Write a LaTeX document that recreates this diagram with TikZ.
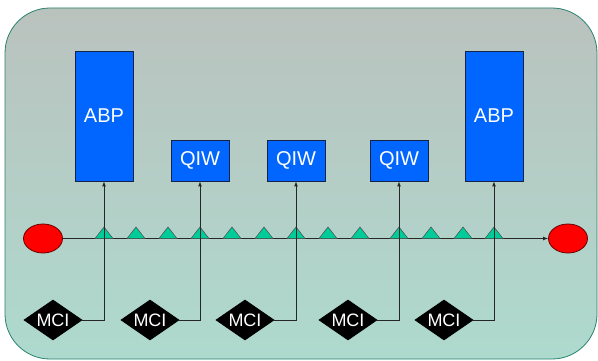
\documentclass[tikz,border=0pt]{standalone}
\usepackage{fontspec}
\setmainfont{Liberation Sans}
\usetikzlibrary{shapes.geometric}

\definecolor{boxblue}{RGB}{0,102,255}
\definecolor{edgeblue}{RGB}{20,35,70}
\definecolor{trigreen}{RGB}{0,204,153}
\definecolor{bgtop}{RGB}{186,194,190}
\definecolor{bgbot}{RGB}{174,218,206}
\definecolor{bgedge}{RGB}{40,130,110}

\begin{document}
\begin{tikzpicture}[x=1pt, y=-1pt,
		every node/.style={draw=edgeblue, inner sep=0pt, line width=0.8pt},
		unit/.style={fill=boxblue, text=white, font=\fontsize{20}{20}\selectfont, minimum width=58pt},
		mci/.style={diamond, aspect=1.45, fill=black, draw=black, text=white, font=\fontsize{18}{18}\selectfont, minimum width=58pt, minimum height=40pt},
		port/.style={ellipse, fill=red, draw=red!40!black, minimum width=39pt, minimum height=29pt},
		wire/.style={line width=0.7pt, draw=black!85}]
		\useasboundingbox (0,0) rectangle (598,361);
		\path[rounded corners=45pt, top color=bgtop, bottom color=bgbot, draw=bgedge, line width=0.8pt] (5,8) rectangle (597,359);

		\node (abp1) [unit, minimum height=130pt] at (104,116) {ABP};
		\node (qiw1) [unit, minimum height=41pt] at (200,160.5) {QIW};
		\node (qiw2) [unit, minimum height=41pt] at (296,160.5) {QIW};
		\node (qiw3) [unit, minimum height=41pt] at (399,160.5) {QIW};
		\node (abp2) [unit, minimum height=130pt] at (494,116) {ABP};

		\node (src) [port] at (43,238.5) {};
		\node (dst) [port] at (568,238.5) {};

		\node (mci1) [mci] at (53,320) {MCI};
		\node (mci2) [mci] at (150,320) {MCI};
		\node (mci3) [mci] at (245,320) {MCI};
		\node (mci4) [mci] at (348,320) {MCI};
		\node (mci5) [mci] at (444,320) {MCI};

		\draw [wire, -latex] (src) -- (dst);
		\foreach \x in {104,136,168,200,232,264,296,328,360,399,431,463,494}
			\draw [fill=trigreen, draw=black!70, line width=0.5pt] (\x-9,238.5) -- (\x,227) -- (\x+9,238.5) -- cycle;

		\draw [wire, -latex] (mci1.east) -| (abp1.south);
		\draw [wire, -latex] (mci2.east) -| (qiw1.south);
		\draw [wire, -latex] (mci3.east) -| (qiw2.south);
		\draw [wire, -latex] (mci4.east) -| (qiw3.south);
		\draw [wire, -latex] (mci5.east) -| (abp2.south);
	\end{tikzpicture}
\end{document}
